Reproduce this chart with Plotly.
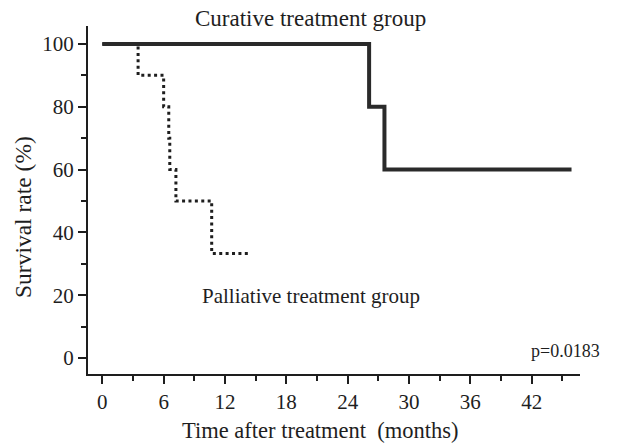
import plotly.graph_objects as go

# Data
curative_time = [0, 26.1, 27.6, 45.9]
curative_surv = [100, 80, 60, 60]

palliative_time = [0, 3.5, 6.0, 6.5, 6.6, 7.2, 10.7, 14.3]
palliative_surv = [100, 90, 80, 70, 60, 50, 33.3, 33.3]

x_ticks = [0, 6, 12, 18, 24, 30, 36, 42]
y_ticks = [0, 20, 40, 60, 80, 100]

FONT = "Liberation Serif, Times New Roman, serif"
INK = "#1e1e1e"

# page body has an 8px margin; compensate so the plot area lands at
# x 88..580, y 26..374 in the window
OFF = 8

fig = go.Figure()
fig.add_trace(go.Scatter(
    x=palliative_time, y=palliative_surv, mode="lines", line_shape="hv",
    line=dict(color=INK, width=3, dash="3px,3.4px"), showlegend=False))
fig.add_trace(go.Scatter(
    x=curative_time, y=curative_surv, mode="lines", line_shape="hv",
    line=dict(color="#2a2a2a", width=4), showlegend=False))

fig.update_layout(
    width=619 - OFF, height=445 - OFF,
    margin=dict(l=88 - OFF, r=39, t=26 - OFF, b=71),
    paper_bgcolor="white", plot_bgcolor="white",
    font=dict(family=FONT, size=21, color=INK),
    xaxis=dict(range=[-1.4, 46.73], tickvals=x_ticks, ticks="outside", ticklen=8,
               tickwidth=2, tickcolor=INK, showline=True, linecolor=INK, linewidth=2,
               showgrid=False, zeroline=False,
               minor=dict(dtick=3, tick0=0, ticks="outside", ticklen=5, tickwidth=2,
                          tickcolor=INK, showgrid=False),
               tickfont=dict(size=21)),
    yaxis=dict(range=[-5.1, 105.7], tickvals=y_ticks, ticks="outside", ticklen=8,
               tickwidth=2, tickcolor=INK, showline=True, linecolor=INK, linewidth=2,
               showgrid=False, zeroline=False,
               minor=dict(dtick=10, tick0=0, ticks="outside", ticklen=5, tickwidth=2,
                          tickcolor=INK, showgrid=False),
               tickfont=dict(size=21)),
)

fig.add_annotation(text="Curative treatment group", xref="paper", yref="paper",
                   x=(310 - 88) / 492, y=(374 - 18) / 348, showarrow=False,
                   font=dict(size=23, family=FONT, color=INK), xanchor="center", yanchor="middle")
fig.add_annotation(text="Palliative treatment group", xref="x", yref="y",
                   x=20.4, y=19.7, showarrow=False,
                   font=dict(size=21, family=FONT, color=INK), xanchor="center", yanchor="middle")
fig.add_annotation(text="p=0.0183", xref="x", yref="y",
                   x=45.3, y=2.3, showarrow=False,
                   font=dict(size=18, family=FONT, color=INK), xanchor="center", yanchor="middle")
fig.add_annotation(text="Time after treatment  (months)", xref="paper", yref="paper",
                   x=(320 - 88) / 492, y=-(430 - 374) / 348, showarrow=False,
                   font=dict(size=22.5, family=FONT, color=INK), xanchor="center", yanchor="middle")
fig.add_annotation(text="Survival rate (%)", xref="paper", yref="paper",
                   x=-(88 - 23) / 492, y=(374 - 217) / 348, showarrow=False, textangle=-90,
                   font=dict(size=23.5, family=FONT, color=INK), xanchor="center", yanchor="middle")

fig.write_html("out.html")
